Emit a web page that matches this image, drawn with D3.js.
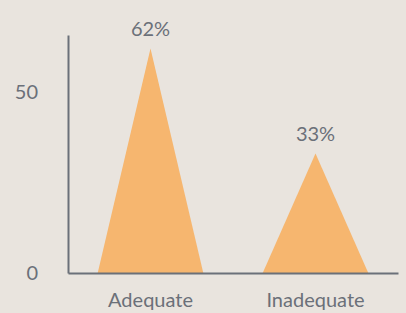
<!DOCTYPE html>
<html>
<head>
<meta charset="utf-8">
<script src="https://cdn.jsdelivr.net/npm/d3@7"></script>
<style>
  html, body { margin: 0; padding: 0; background: #e9e4de; }
  svg { display: block; font-family: Lato, "Open Sans", sans-serif; }
</style>
</head>
<body>
<svg id="chart"></svg>
<script>
// данные
let categories = ["Adequate", "Inadequate"];
let values = [62, 33];
let yTicks = [0, 50];

let width = 406;
let height = 313;
let marginLeft = 68;
let marginRight = 8;
let marginTop = 35;
let marginBottom = 40;

let svg = d3.select("#chart")
  .attr("width", width)
  .attr("height", height);

svg.append("rect")
  .attr("width", width)
  .attr("height", height)
  .attr("fill", "#e9e4de");

let xAxisLen = width - marginLeft - marginRight;
let yAxisLen = height - marginTop - marginBottom;

let scaleX = d3.scaleBand()
  .domain(categories)
  .range([0, xAxisLen])
  .padding(0);

let scaleY = d3.scaleLinear()
  .domain([0, 65.7])
  .range([yAxisLen, 0]);

let g = svg.append("g")
  .attr("transform", `translate(${marginLeft}, ${marginTop})`);

// треугольники
let triW = scaleX.bandwidth() * 0.64;
g.selectAll(".tri")
  .data(categories)
  .enter()
  .append("path")
  .attr("class", "tri")
  .attr("fill", "#f6b66f")
  .attr("d", function(d, i) {
    let cx = scaleX(d) + scaleX.bandwidth() / 2;
    return `M${cx - triW / 2},${scaleY(0)} L${cx},${scaleY(values[i])} L${cx + triW / 2},${scaleY(0)} Z`;
  });

// подписи значений
g.selectAll(".lbl")
  .data(categories)
  .enter()
  .append("text")
  .attr("x", d => scaleX(d) + scaleX.bandwidth() / 2)
  .attr("y", (d, i) => scaleY(values[i]) - 12)
  .attr("text-anchor", "middle")
  .attr("fill", "#6b7079")
  .style("font-size", "20px")
  .text((d, i) => values[i] + "%");

// ось Y
let axisY = d3.axisLeft(scaleY).tickValues(yTicks).tickSize(0).tickPadding(30);
let gy = g.append("g").call(axisY);
gy.select(".domain").attr("stroke", "#6b7079").attr("stroke-width", 2);
gy.selectAll("text")
  .attr("fill", "#6b7079")
  .style("font-size", "20px")
  .style("font-family", "Lato, sans-serif");

// ось X
let axisX = d3.axisBottom(scaleX).tickSize(0).tickPadding(20);
let gx = g.append("g")
  .attr("transform", `translate(0, ${yAxisLen})`)
  .call(axisX);
gx.select(".domain").attr("stroke", "#6b7079").attr("stroke-width", 2);
gx.selectAll("text")
  .attr("fill", "#6b7079")
  .style("font-size", "20px")
  .style("font-family", "Lato, sans-serif");
</script>
</body>
</html>
